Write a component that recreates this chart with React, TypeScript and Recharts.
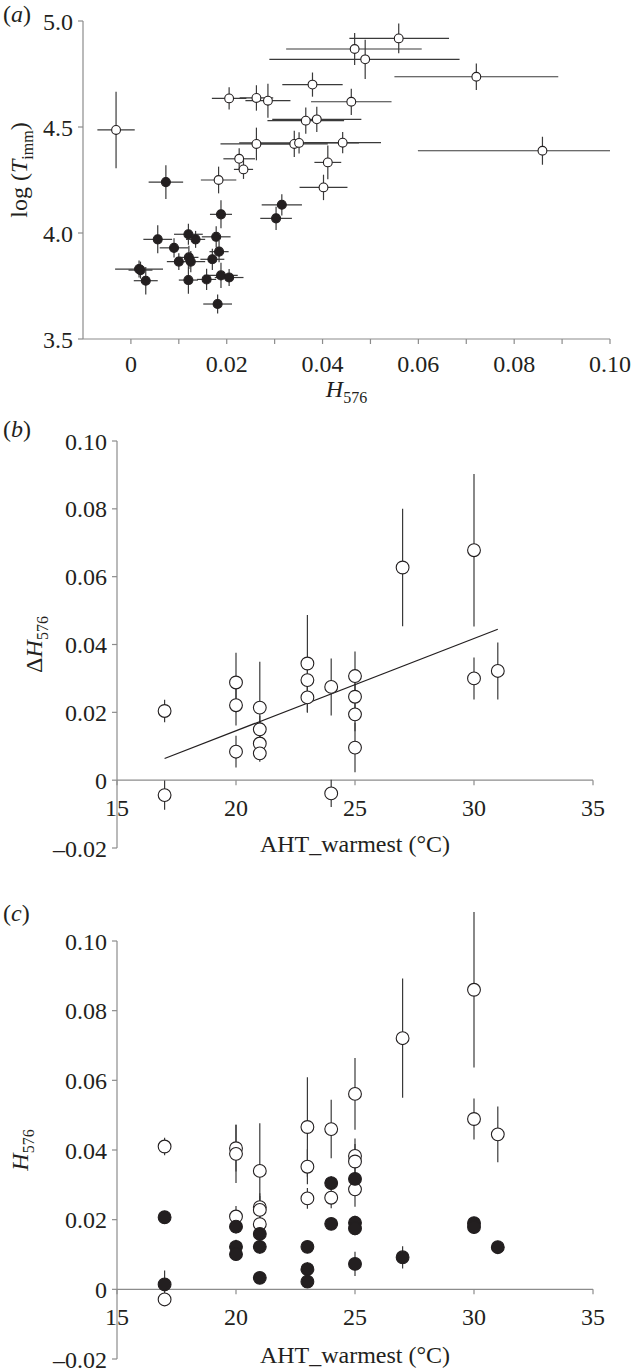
import React from "react";
import { ScatterChart, Scatter, XAxis, YAxis, ErrorBar, ReferenceLine } from "recharts";

const FONT = '"Liberation Serif", "DejaVu Serif", serif';
const INK = "#231f20";
const AXIS = "#8c8c8c";
const BAR = "#3a3a3a";

// ---- panel (a): log(T_imm) vs H576 ----
const A_XTICKS = [0, 0.01, 0.02, 0.03, 0.04, 0.05, 0.06, 0.07, 0.08, 0.09, 0.1];
const A_YTICKS = [3.5, 4.0, 4.5, 5.0];

const aOpenX = [-0.0031, 0.0205, 0.0262, 0.0286, 0.0379, 0.0365, 0.0388, 0.046, 0.0262, 0.0341, 0.0351, 0.0442, 0.0226, 0.0235, 0.0183, 0.0411, 0.0402, 0.0559, 0.0467, 0.0489, 0.0721, 0.0859];
const aOpenY = [4.486, 4.635, 4.637, 4.624, 4.7, 4.53, 4.536, 4.619, 4.42, 4.42, 4.425, 4.426, 4.35, 4.3, 4.25, 4.333, 4.215, 4.918, 4.868, 4.819, 4.737, 4.388];
const aOpenXLo = [0.0039, 0.0036, 0.0035, 0.0047, 0.0063, 0.008, 0.0093, 0.0084, 0.0075, 0.007, 0.0125, 0.008, 0.0033, 0.002, 0.0037, 0.0028, 0.005, 0.0103, 0.0143, 0.02, 0.0171, 0.026];
const aOpenXHi = [0.0039, 0.0036, 0.0035, 0.0047, 0.0063, 0.008, 0.0093, 0.0084, 0.0075, 0.007, 0.0125, 0.008, 0.0033, 0.002, 0.0037, 0.0028, 0.005, 0.0105, 0.014, 0.0197, 0.0171, 0.0141];
const aOpenYErr = [0.18, 0.053, 0.06, 0.08, 0.057, 0.062, 0.06, 0.062, 0.077, 0.062, 0.05, 0.05, 0.05, 0.045, 0.063, 0.08, 0.06, 0.07, 0.075, 0.092, 0.062, 0.066];

const aFullX = [0.0073, 0.0188, 0.0315, 0.0303, 0.0056, 0.012, 0.0135, 0.0178, 0.009, 0.0184, 0.01, 0.0121, 0.0125, 0.017, 0.0017, 0.002, 0.0031, 0.012, 0.0158, 0.0188, 0.0205, 0.0181];
const aFullY = [4.24, 4.088, 4.133, 4.069, 3.97, 3.994, 3.97, 3.982, 3.93, 3.912, 3.865, 3.885, 3.865, 3.876, 3.83, 3.825, 3.775, 3.778, 3.781, 3.8, 3.79, 3.665];
const aFullXErr = [0.0036, 0.0023, 0.0042, 0.0033, 0.003, 0.003, 0.002, 0.003, 0.003, 0.002, 0.0025, 0.002, 0.003, 0.0025, 0.005, 0.0025, 0.0025, 0.002, 0.002, 0.0035, 0.003, 0.003];
const aFullYErr = [0.08, 0.066, 0.05, 0.055, 0.066, 0.05, 0.04, 0.05, 0.045, 0.05, 0.04, 0.055, 0.05, 0.05, 0.04, 0.04, 0.065, 0.065, 0.05, 0.06, 0.04, 0.045];

// ---- panels (b) and (c): against AHT_warmest ----
const T_TICKS = [15, 20, 25, 30, 35];
const H_TICKS = [-0.02, 0, 0.02, 0.04, 0.06, 0.08, 0.1];

const bT = [17, 17, 20, 20, 20, 21, 21, 21, 21, 23, 23, 23, 24, 24, 25, 25, 25, 25, 27, 30, 30, 31];
const bDelta = [0.0204, -0.0044, 0.0288, 0.0221, 0.0084, 0.0214, 0.015, 0.0108, 0.0079, 0.0344, 0.0295, 0.0244, 0.0275, -0.0039, 0.0307, 0.0246, 0.0194, 0.0096, 0.0627, 0.0678, 0.03, 0.0322];
const bErr = [0.0033, 0.0043, 0.0088, 0.006, 0.0047, 0.0135, 0.004, 0.003, 0.0025, 0.0143, 0.004, 0.0045, 0.0084, 0.004, 0.0072, 0.004, 0.005, 0.0073, 0.0173, 0.0225, 0.0062, 0.0084];
const fitT = [17, 31];
const fitDelta = [0.0064, 0.0445];

const cOpenT = [17, 17, 20, 20, 20, 21, 21, 21, 21, 23, 23, 23, 24, 24, 25, 25, 25, 25, 27, 30, 30, 31];
const cOpenH = [0.041, -0.0029, 0.0405, 0.0389, 0.0209, 0.034, 0.0236, 0.0228, 0.0187, 0.0466, 0.0352, 0.0261, 0.046, 0.0263, 0.0561, 0.0383, 0.0367, 0.0287, 0.0721, 0.086, 0.0489, 0.0445];
const cOpenErr = [0.0025, 0, 0.0067, 0.0084, 0.003, 0.0137, 0.004, 0.004, 0.004, 0.0143, 0.005, 0.003, 0.0084, 0.003, 0.0103, 0.005, 0.005, 0.005, 0.0171, 0.0223, 0.0059, 0.008];

const cFullT = [17, 17, 20, 20, 20, 21, 21, 21, 23, 23, 23, 24, 24, 25, 25, 25, 25, 27, 30, 30, 31];
const cFullH = [0.0207, 0.0014, 0.018, 0.0122, 0.0101, 0.0159, 0.0122, 0.0033, 0.0122, 0.0058, 0.0022, 0.0305, 0.0188, 0.0317, 0.0191, 0.0175, 0.0073, 0.0092, 0.019, 0.0179, 0.0121];
const cFullErr = [0.001, 0.004, 0.002, 0.002, 0.002, 0.002, 0.002, 0.0015, 0.0015, 0.002, 0.001, 0.002, 0.001, 0.002, 0.002, 0.002, 0.0035, 0.0032, 0.001, 0.002, 0.001];

const aOpen = aOpenX.map((x, i) => ({ x, y: aOpenY[i], ex: [aOpenXLo[i], aOpenXHi[i]], ey: aOpenYErr[i] }));
const aFull = aFullX.map((x, i) => ({ x, y: aFullY[i], ex: aFullXErr[i], ey: aFullYErr[i] }));
const bData = bT.map((x, i) => ({ x, y: bDelta[i], ey: bErr[i] }));
const fitData = fitT.map((x, i) => ({ x, y: fitDelta[i] }));
const cOpen = cOpenT.map((x, i) => ({ x, y: cOpenH[i], ey: cOpenErr[i] }));
const cFull = cFullT.map((x, i) => ({ x, y: cFullH[i], ey: cFullErr[i] }));

const tickStyle = { fill: INK, fontSize: 24, fontFamily: FONT };

const dot = (r: number, fill: string) => (p: any) => (
  <circle cx={p.cx} cy={p.cy} r={r} fill={fill} stroke={INK} strokeWidth={1.1} />
);

const fmtA = (v: number) => {
  const k = Math.round(v * 100);
  if (k % 2 !== 0) return "";
  return k === 0 ? "0" : v.toFixed(2);
};
const fmtH = (v: number) => (v === 0 ? "0" : v < 0 ? "\u2013" + Math.abs(v).toFixed(2) : v.toFixed(2));

// x ticks sit on the y = 0 line, which is `lift` px above the plot bottom
function ZeroTick({ x, y, payload, lift }: any) {
  const y0 = y - lift;
  return (
    <g>
      <line x1={x} x2={x} y1={y0} y2={y0 + 5} stroke={AXIS} strokeWidth={1.2} />
      <text x={x} y={y0 + 36} textAnchor="middle" fill={INK} fontSize={24} fontFamily={FONT}>
        {payload.value}
      </text>
    </g>
  );
}

function YTitle({ viewBox, cx, children }: any) {
  const cy = viewBox.y + viewBox.height / 2;
  return (
    <text x={cx} y={cy} transform={`rotate(-90, ${cx}, ${cy})`} textAnchor="middle" fill={INK} fontSize={24} fontFamily={FONT}>
      {children}
    </text>
  );
}

function TempTitle({ viewBox }: any) {
  return (
    <text x={viewBox.x + viewBox.width / 2} y={viewBox.y + 4} textAnchor="middle" fill={INK} fontSize={24} fontFamily={FONT}>
      AHT_warmest (°C)
    </text>
  );
}

const Sub = ({ children }: any) => (
  <tspan fontSize={16} dy={6}>
    {children}
  </tspan>
);

const panelLabel = (letter: string, top: number) => (
  <div style={{ position: "absolute", left: 3, top, fontSize: 24, lineHeight: "26px", fontFamily: FONT, color: INK }}>
    (<i>{letter}</i>)
  </div>
);

const B_PLOT_H = 407;
const C_PLOT_H = 418;

export default function App() {
  return (
    <div style={{ position: "absolute", left: 0, top: 0, width: 634, height: 1371, background: "#fff", fontFamily: FONT }}>
      {panelLabel("a", 1)}
      {panelLabel("b", 416)}
      {panelLabel("c", 900)}

      <div style={{ position: "absolute", left: 0, top: 0 }}>
        <ScatterChart width={634} height={410} margin={{ top: 21, right: 24, bottom: 31, left: 0 }}>
          <XAxis
            type="number"
            dataKey="x"
            domain={[-0.01, 0.1]}
            allowDataOverflow
            ticks={A_XTICKS}
            interval={0}
            tickFormatter={fmtA}
            stroke={AXIS}
            strokeWidth={1.2}
            tickSize={5}
            tickMargin={11}
            tick={tickStyle}
            height={40}
            label={{
              content: ({ viewBox }: any) => (
                <text x={viewBox.x + viewBox.width / 2} y={viewBox.y + 58} textAnchor="middle" fill={INK} fontSize={24} fontFamily={FONT}>
                  <tspan fontStyle="italic">H</tspan>
                  <Sub>576</Sub>
                </text>
              ),
            }}
          />
          <YAxis
            type="number"
            dataKey="y"
            domain={[3.5, 5]}
            allowDataOverflow
            ticks={A_YTICKS}
            interval={0}
            tickFormatter={(v: number) => v.toFixed(1)}
            stroke={AXIS}
            strokeWidth={1.2}
            tickSize={5}
            tickMargin={5}
            tick={tickStyle}
            width={83}
            label={{
              content: ({ viewBox }: any) => (
                <YTitle viewBox={{ ...viewBox, y: viewBox.y - 10 }} cx={27}>
                  log (<tspan fontStyle="italic">T</tspan>
                  <Sub>imm</Sub>
                  <tspan dy={-6}>)</tspan>
                </YTitle>
              ),
            }}
          />
          <Scatter data={aOpen} shape={dot(4.4, "#fff")} isAnimationActive={false}>
            <ErrorBar dataKey="ex" direction="x" width={0} stroke={BAR} strokeWidth={1.2} />
            <ErrorBar dataKey="ey" direction="y" width={0} stroke={BAR} strokeWidth={1.2} />
          </Scatter>
          <Scatter data={aFull} shape={dot(4.5, INK)} isAnimationActive={false}>
            <ErrorBar dataKey="ex" direction="x" width={0} stroke={BAR} strokeWidth={1.2} />
            <ErrorBar dataKey="ey" direction="y" width={0} stroke={BAR} strokeWidth={1.2} />
          </Scatter>
        </ScatterChart>
      </div>

      <div style={{ position: "absolute", left: 0, top: 420 }}>
        <ScatterChart width={634} height={450} margin={{ top: 21, right: 41, bottom: 0, left: 0 }}>
          <XAxis
            type="number"
            dataKey="x"
            domain={[15, 35]}
            allowDataOverflow
            ticks={T_TICKS}
            interval={0}
            axisLine={false}
            tickLine={false}
            tickSize={0}
            tickMargin={0}
            tick={(p: any) => <ZeroTick {...p} lift={B_PLOT_H / 6} />}
            height={22}
            label={{ content: (p: any) => <TempTitle {...p} /> }}
          />
          <YAxis
            type="number"
            dataKey="y"
            domain={[-0.02, 0.1]}
            allowDataOverflow
            ticks={H_TICKS}
            interval={0}
            tickFormatter={fmtH}
            stroke={AXIS}
            strokeWidth={1.2}
            tickSize={5}
            tickMargin={5}
            tick={tickStyle}
            width={117}
            label={{
              content: ({ viewBox }: any) => (
                <YTitle viewBox={viewBox} cx={42}>
                  Δ<tspan fontStyle="italic">H</tspan>
                  <Sub>576</Sub>
                </YTitle>
              ),
            }}
          />
          <ReferenceLine y={0} stroke={AXIS} strokeWidth={1.2} />
          <Scatter data={fitData} line={{ stroke: INK, strokeWidth: 1.2 }} shape={() => <g />} isAnimationActive={false} />
          <Scatter data={bData} shape={dot(6.4, "#fff")} isAnimationActive={false}>
            <ErrorBar dataKey="ey" direction="y" width={0} stroke={BAR} strokeWidth={1.2} />
          </Scatter>
        </ScatterChart>
      </div>

      <div style={{ position: "absolute", left: 0, top: 900 }}>
        <ScatterChart width={634} height={471} margin={{ top: 41, right: 41, bottom: 0, left: 0 }}>
          <XAxis
            type="number"
            dataKey="x"
            domain={[15, 35]}
            allowDataOverflow
            ticks={T_TICKS}
            interval={0}
            axisLine={false}
            tickLine={false}
            tickSize={0}
            tickMargin={0}
            tick={(p: any) => <ZeroTick {...p} lift={C_PLOT_H / 6} />}
            height={12}
            label={{ content: (p: any) => <TempTitle {...p} /> }}
          />
          <YAxis
            type="number"
            dataKey="y"
            domain={[-0.02, 0.1]}
            allowDataOverflow
            ticks={H_TICKS}
            interval={0}
            tickFormatter={fmtH}
            stroke={AXIS}
            strokeWidth={1.2}
            tickSize={5}
            tickMargin={5}
            tick={tickStyle}
            width={117}
            label={{
              content: ({ viewBox }: any) => (
                <YTitle viewBox={viewBox} cx={28}>
                  <tspan fontStyle="italic">H</tspan>
                  <Sub>576</Sub>
                </YTitle>
              ),
            }}
          />
          <ReferenceLine y={0} stroke={AXIS} strokeWidth={1.2} />
          <Scatter data={cOpen} shape={dot(6.4, "#fff")} isAnimationActive={false}>
            <ErrorBar dataKey="ey" direction="y" width={0} stroke={BAR} strokeWidth={1.2} />
          </Scatter>
          <Scatter data={cFull} shape={dot(6.4, INK)} isAnimationActive={false}>
            <ErrorBar dataKey="ey" direction="y" width={0} stroke={BAR} strokeWidth={1.2} />
          </Scatter>
        </ScatterChart>
      </div>
    </div>
  );
}
